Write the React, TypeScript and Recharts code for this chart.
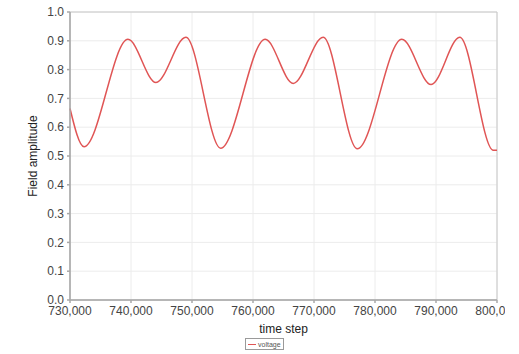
import {
  CartesianGrid,
  Legend,
  Line,
  LineChart,
  ReferenceArea,
  XAxis,
  YAxis,
} from "recharts";

// time steps read at the turning points of the curve
const steps = [
  730000, 732300, 739500, 744100, 749000, 754700, 762000, 766600, 771500,
  777100, 784400, 789200, 793900, 799400, 800000,
];
const voltage = [
  0.665, 0.532, 0.905, 0.755, 0.912, 0.527, 0.905, 0.752, 0.912, 0.525,
  0.905, 0.748, 0.912, 0.52, 0.52,
];
const xTicks = [730000, 740000, 750000, 760000, 770000, 780000, 790000, 800000];
const yTicks = [0, 0.1, 0.2, 0.3, 0.4, 0.5, 0.6, 0.7, 0.8, 0.9, 1.0];

const data = steps.map((step, i) => ({ step, voltage: voltage[i] }));

const font = '"Liberation Sans", Arial, sans-serif';

function VoltageLegend() {
  return (
    <div
      style={{
        display: "flex",
        alignItems: "center",
        border: "1px solid #9a9a9a",
        height: 10,
        padding: "0 2px",
        fontFamily: font,
        fontSize: 7,
        color: "#555",
        background: "#fff",
      }}
    >
      <span
        style={{
          display: "inline-block",
          width: 8,
          height: 1,
          background: "#e05555",
          marginRight: 2,
        }}
      />
      voltage
    </div>
  );
}

export default function App() {
  return (
    <div style={{ position: "absolute", left: 0, top: 0, background: "#fff" }}>
      <LineChart
        width={505}
        height={354}
        data={data}
        margin={{ top: 12, right: 8, left: 28, bottom: 7 }}
        style={{ fontFamily: font }}
      >
        <CartesianGrid stroke="#ececec" />
        <ReferenceArea
          x1={730000}
          x2={800000}
          y1={0}
          y2={1}
          fill="none"
          stroke="#c8c8c8"
          ifOverflow="visible"
        />
        <XAxis
          dataKey="step"
          type="number"
          domain={[730000, 800000]}
          ticks={xTicks}
          tickFormatter={(v) => Number(v).toLocaleString("en-US")}
          height={33}
          tickSize={3}
          tickMargin={3}
          stroke="#a8a8a8"
          strokeWidth={1.5}
          tick={{ fontSize: 12, fill: "#444" }}
          interval={0}
          label={{
            value: "time step",
            position: "insideBottom",
            offset: 0,
            style: { fontSize: 12, fill: "#222" },
          }}
        />
        <YAxis
          type="number"
          domain={[0, 1]}
          ticks={yTicks}
          tickFormatter={(v) => Number(v).toFixed(1)}
          width={42}
          tickSize={3}
          tickMargin={3}
          stroke="#a8a8a8"
          strokeWidth={1.5}
          tick={{ fontSize: 12, fill: "#444" }}
          interval={0}
          label={{
            value: "Field amplitude",
            angle: -90,
            position: "insideLeft",
            offset: 5,
            style: { fontSize: 12, fill: "#222", textAnchor: "middle" },
          }}
        />
        <Legend
          verticalAlign="bottom"
          height={14}
          content={() => <VoltageLegend />}
          wrapperStyle={{ left: 245, width: "auto", bottom: 2 }}
        />
        <Line
          dataKey="voltage"
          type="monotone"
          stroke="#e05555"
          strokeWidth={1.5}
          dot={false}
          isAnimationActive={false}
        />
      </LineChart>
    </div>
  );
}
